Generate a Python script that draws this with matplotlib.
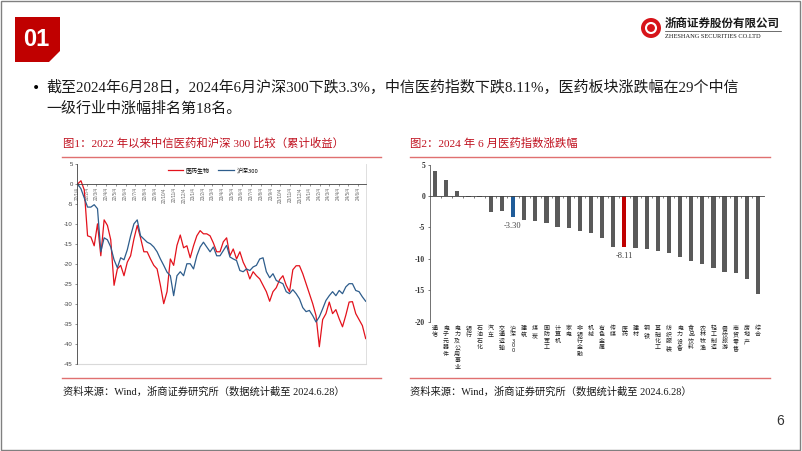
import numpy as np
import pandas as pd
import matplotlib
matplotlib.use('Agg')
import matplotlib.pyplot as plt
import matplotlib.transforms as mtrans
from matplotlib.patches import Polygon, Rectangle, Circle

plt.rcParams['font.family'] = ['Liberation Serif', 'Noto Sans CJK SC']

# ---- data: fig 1, cumulative return (%) since 2022 ----
med = [0, 0.8, -1.5, -13, -13.3, -15.5, -10, -18, -9, -10.4,
       -14, -25.4, -21.3, -20.4, -23, -19.6, -18, -13.8, -10.4, -13.5,
       -17, -17, -18.8, -20.4, -21.3, -25.4, -30, -27, -18.8, -20.4,
       -15.4, -12.8, -16, -15.5, -18.5, -15.5, -13, -11.7, -12.5, -12.5,
       -13, -14.8, -17, -17, -14.5, -13.5, -18, -16.3, -18.8, -17,
       -19.6, -21.3, -23.8, -22, -23, -23.8, -25.4, -27, -29.4, -27,
       -26, -24, -23, -25.4, -27, -21.5, -20.5, -20.5, -22.5, -25,
       -27.5, -30, -33, -40.8, -34, -32.5, -29.6, -32.5, -31.5, -33.8,
       -35.8, -32.9, -29.6, -29.5, -32.5, -34, -35.5, -38.75]
hs300 = [0, -1.2, -3.5, -5.8, -5.8, -5.2, -6.2, -17, -13.5, -14,
         -15.8, -19, -21, -18.5, -19, -16.5, -13, -10, -9, -13,
         -13.8, -14.6, -15, -15.8, -17, -18.8, -20.4, -22.1, -23, -28,
         -23, -22, -23, -20, -20, -21.3, -18, -15.8, -14.6, -15.8,
         -17, -15.8, -18, -18, -16.7, -15.4, -18.3, -18.8, -19.2, -21.7,
         -22, -21.3, -21.7, -20.8, -20.4, -18.8, -18.5, -22, -23.5, -22.5,
         -24.2, -24.6, -25, -27, -27.5, -26.5, -27.5, -28.8, -31, -32,
         -31.7, -33, -34.6, -33.3, -31.3, -29.2, -28, -27, -28, -26.7,
         -27.5, -25.8, -25, -25, -26.7, -27, -28.3, -29.4]
dates = pd.date_range('2022-01-04', '2024-06-28', periods=len(med))
tick_dates = pd.date_range('2022-01-01', periods=30, freq='MS') + pd.Timedelta(days=3)
tick_labels = [f'{d.year % 100}/{d.month}/4' for d in tick_dates]

# ---- data: fig 2, June 2024 returns (%) by CITIC industry ----
industries = ['通信', '电子元器件', '电力及公用事业', '银行', '石油石化', '汽车', '交通运输',
              '沪深300', '建筑', '煤炭', '国防军工', '计算机', '家电', '非银行金融', '机械',
              '有色金属', '传媒', '医药', '建材', '钢铁', '基础化工', '纺织服装', '电力设备',
              '食品饮料', '农林牧渔', '轻工制造', '餐饮旅游', '商贸零售', '房地产', '综合']
returns = [4.0, 2.5, 0.75, -0.1, -0.2, -2.5, -2.4, -3.30, -3.76, -4.0,
           -4.25, -4.9, -5.1, -5.6, -5.9, -6.7, -8.05, -8.11, -8.3, -8.5,
           -8.7, -9.1, -9.7, -10.4, -10.9, -11.4, -12.1, -12.3, -13.2, -15.6]

W, H = 802, 451


def fx(x):
    return x / W


def fy(y):
    return 1 - y / H


fig = plt.figure(figsize=(8.02, 4.51), dpi=100)
fig.add_artist(Rectangle((0.001, 0.002), 0.997, 0.995, transform=fig.transFigure,
                         fill=False, ec='#808080', lw=1))

# header
fig.add_artist(Polygon([(fx(15), fy(17)), (fx(60), fy(17)), (fx(60), fy(51)),
                        (fx(49), fy(62)), (fx(15), fy(62))], closed=True,
                       transform=fig.transFigure, fc='#C00000', ec='none'))
fig.text(fx(36), fy(39), '01', color='white', fontsize=17, fontweight='bold',
         family='Liberation Sans', ha='center', va='center')

fig.add_artist(Circle((6.51, 4.51 - 0.28), 0.1, transform=fig.dpi_scale_trans,
                      fc='#D7141A', ec='none'))
fig.add_artist(Circle((6.51, 4.51 - 0.28), 0.05, transform=fig.dpi_scale_trans,
                      fc='none', ec='white', lw=1.5))
fig.text(fx(665), fy(23), '浙商证券股份有限公司', fontsize=8.3, fontweight='bold',
         family='Noto Sans CJK SC', va='center', color='#1a1a1a')
fig.add_artist(plt.Line2D([fx(665), fx(781)], [fy(31), fy(31)], transform=fig.transFigure,
                          color='#333333', lw=0.5))
fig.text(fx(665), fy(36), 'ZHESHANG SECURITIES CO.LTD', fontsize=4.6, va='center',
         color='#1a1a1a')

# bullet text
fig.text(fx(32), fy(88), '•', fontsize=10, va='center', family='DejaVu Sans')
fig.text(fx(46), fy(88), '截至2024年6月28日，2024年6月沪深300下跌3.3%，中信医药指数下跌8.11%，医药板块涨跌幅在29个中信',
         fontsize=10.8, va='center', color='#1a1a1a')
fig.text(fx(46), fy(109), '一级行业中涨幅排名第18名。', fontsize=10.8, va='center', color='#1a1a1a')

# titles / sources
title_red = '#C0111F'
fig.text(fx(63), fy(143), '图1：2022 年以来中信医药和沪深 300 比较（累计收益）', fontsize=8.2,
         color=title_red, va='center')
fig.text(fx(410), fy(143), '图2：2024 年 6 月医药指数涨跌幅', fontsize=8.2,
         color=title_red, va='center')
for x0, x1 in [(62, 381), (410, 770)]:
    for y in (157, 378):
        fig.add_artist(plt.Line2D([fx(x0), fx(x1)], [fy(y), fy(y)], transform=fig.transFigure,
                                  color='#E07070', lw=1))
src = '资料来源：Wind，浙商证券研究所（数据统计截至 2024.6.28）'
fig.text(fx(63), fy(392), src, fontsize=7.4, va='center', color='#1a1a1a')
fig.text(fx(410), fy(392), src, fontsize=7.4, va='center', color='#1a1a1a')
fig.text(fx(780), fy(421), '6', fontsize=10, va='center', ha='center',
         family='Liberation Sans', color='#333333')

# ---- chart 1 ----
ax1 = fig.add_axes([fx(77), fy(363.5), fx(366) - fx(77), fy(164) - fy(363.5)])
# move the x axis to y=0 first: set_position resets the tick objects
ax1.spines['bottom'].set_position(('data', 0))
ax1.plot(dates, med, color='#E3121C', lw=0.9, label='医药生物')
ax1.plot(dates, hs300, color='#2E5D8C', lw=0.9, label='沪深300')
ax1.set_ylim(-45, 5)
ax1.set_xlim(dates[0] - pd.Timedelta(days=2), dates[-1] + pd.Timedelta(days=1))
ax1.set_yticks(range(-45, 6, 5))
ax1.set_yticklabels([str(v) for v in range(-45, 6, 5)], fontsize=4.3,
                    family='Liberation Sans', color='#404040')
ax1.set_xticks(tick_dates)
ax1.set_xticklabels(tick_labels, fontsize=3.3, family='Liberation Sans', color='#666666')
ax1.tick_params(axis='x', length=1.5, width=0.4, pad=1, color='#404040', labelrotation=90)
ax1.tick_params(axis='y', length=1.5, width=0.4, pad=1.5, color='#404040')
ax1.spines['bottom'].set_color('#404040')
ax1.spines['bottom'].set_linewidth(0.6)
ax1.spines['left'].set_color('#404040')
ax1.spines['left'].set_linewidth(0.6)
ax1.spines['top'].set_visible(False)
ax1.spines['right'].set_color('#D9D9D9')
ax1.spines['right'].set_linewidth(0.6)
ax1.plot([0, 1], [0, 0], transform=ax1.transAxes, color='#D9D9D9', lw=0.8, clip_on=False)
ax1.legend(loc='upper center', bbox_to_anchor=(0.47, 1.0), ncol=2, frameon=False,
           prop={'family': 'Noto Sans CJK SC', 'size': 4.3}, handlelength=2.6,
           columnspacing=1.5, handletextpad=0.4, borderaxespad=0.2)

# ---- chart 2 ----
ax2 = fig.add_axes([fx(430), fy(321.7), fx(763.6) - fx(430), fy(164.5) - fy(321.7)])
ax2.spines['bottom'].set_position(('data', 0))
xpos = np.arange(len(industries))
colors = ['#5A5A5A'] * len(industries)
colors[industries.index('沪深300')] = '#1F5C99'
colors[industries.index('医药')] = '#C00000'
ax2.bar(xpos, returns, width=0.38, color=colors)
ax2.set_xlim(-0.45, len(industries) - 0.5)
ax2.set_ylim(-20, 5)
ax2.set_yticks(range(-20, 6, 5))
ax2.set_yticklabels([str(v) for v in range(-20, 6, 5)], fontsize=5.5, fontweight='bold',
                    color='#333333')
ax2.set_xticks(np.arange(len(industries) - 1) + 0.5)
ax2.set_xticklabels([])
ax2.tick_params(axis='x', length=1.5, width=0.5, color='#404040')
ax2.tick_params(axis='y', length=1.5, width=0.5, pad=2, color='#404040')
ax2.spines['bottom'].set_color('#404040')
ax2.spines['bottom'].set_linewidth(0.6)
ax2.spines['left'].set_color('#595959')
ax2.spines['left'].set_linewidth(0.6)
ax2.spines['top'].set_visible(False)
ax2.spines['right'].set_visible(False)

# vertical category labels, one character under the other
blend = mtrans.blended_transform_factory(ax2.transData, ax2.transAxes)
for i, name in enumerate(industries):
    down = 0.0
    for ch in name:
        tr = mtrans.offset_copy(blend, fig=fig, x=0, y=-down * 0.72, units='points')
        ax2.text(i, -0.025, ch, transform=tr, ha='center', va='top',
                 fontsize=4.3, family='Noto Sans CJK SC', color='#222222')
        down += 4.5 if ch.isdigit() else 6.5

for name in ('沪深300', '医药'):
    i = industries.index(name)
    ax2.annotate(f'{returns[i]:.2f}', (i, returns[i]), xytext=(0, -4),
                 textcoords='offset points', ha='center', va='top', fontsize=6,
                 color='#404040')

fig.savefig('out.png', dpi=100)
